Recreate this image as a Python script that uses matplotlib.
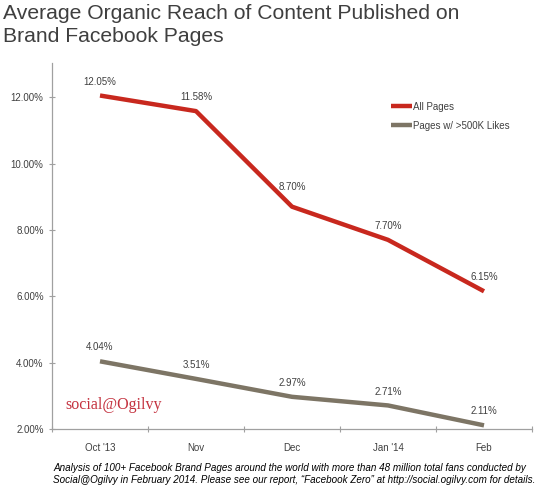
import matplotlib
matplotlib.use("Agg")
import matplotlib.pyplot as plt
import numpy as np

months = ["Oct '13", "Nov", "Dec", "Jan '14", "Feb"]
all_pages = [12.05, 11.58, 8.70, 7.70, 6.15]
big_pages = [4.04, 3.51, 2.97, 2.71, 2.11]
yticks = [2, 4, 6, 8, 10, 12]
series_names = ["All Pages", "Pages w/ >500K Likes"]

red = "#c8281e"
gray = "#7d7565"
txt = "#404040"

plt.rcParams['font.family'] = ['Liberation Sans', 'DejaVu Sans']

fig = plt.figure(figsize=(5.5, 4.91), dpi=100)
ax = fig.add_axes([52/550, 1-429/491, 480/550, (429-63)/491])

x = np.arange(len(months))
ax.plot(x, all_pages, color=red, lw=3.2, solid_capstyle='butt', solid_joinstyle='round', label=series_names[0])
ax.plot(x, big_pages, color=gray, lw=3.2, solid_capstyle='butt', solid_joinstyle='round', label=series_names[1])

red_off = [10, 10, 14, 10, 10]
for xi, v, o in zip(x, all_pages, red_off):
    ax.annotate(f"{v:.2f}%", (xi, v), xytext=(0, o), textcoords='offset points',
                ha='center', va='center', fontsize=7, color=txt)
for xi, v in zip(x, big_pages):
    ax.annotate(f"{v:.2f}%", (xi, v), xytext=(0, 10), textcoords='offset points',
                ha='center', va='center', fontsize=7, color=txt)

ax.set_xlim(-0.5, len(months) - 0.5)
ax.set_ylim(2, 13.03)
ax.set_yticks(yticks)
ax.set_yticklabels([f"{t:.2f}%" for t in yticks], fontsize=7, color=txt)
ax.set_xticks(np.arange(-0.5, len(months), 1.0))
ax.set_xticklabels([])
ax.set_xticks(x, minor=True)
ax.set_xticklabels(months, minor=True, fontsize=7, color=txt)
ax.tick_params(axis='x', which='minor', length=0, pad=10)
ax.tick_params(axis='x', which='major', length=4, direction='inout', color='#a0a0a0')
ax.tick_params(axis='y', length=4, direction='inout', color='#a0a0a0', pad=4)

for s in ['top', 'right']:
    ax.spines[s].set_visible(False)
for s in ['left', 'bottom']:
    ax.spines[s].set_color('#a0a0a0')
    ax.spines[s].set_linewidth(0.9)

leg = ax.legend(loc='upper left', bbox_to_anchor=(335/480, 1-(98-63)/366), frameon=False,
                fontsize=7, handlelength=2.2, handletextpad=0.05, labelspacing=0.9,
                labelcolor=txt, borderaxespad=0)

fig.text(3/550, 1-4/491, "Average Organic Reach of Content Published on\nBrand Facebook Pages",
         fontsize=15.2, color="#3f3f3f", ha='left', va='top', linespacing=1.3)

fig.text(65/550, 1-405/491, "social@Ogilvy", family=['Liberation Serif', 'DejaVu Serif'],
         fontsize=11.5, color="#c4323f", ha='left', va='center')

foot = fig.text(53/550, 1-474/491,
         "Analysis of 100+ Facebook Brand Pages around the world with more than 48 million total fans conducted by\n"
         "Social@Ogilvy in February 2014. Please see our report, \u201cFacebook Zero\u201d at http://social.ogilvy.com for details.",
         fontsize=7.15, style='italic', color='black', ha='left', va='center', linespacing=1.2)

fig.savefig("out.png", dpi=100, facecolor='white')
